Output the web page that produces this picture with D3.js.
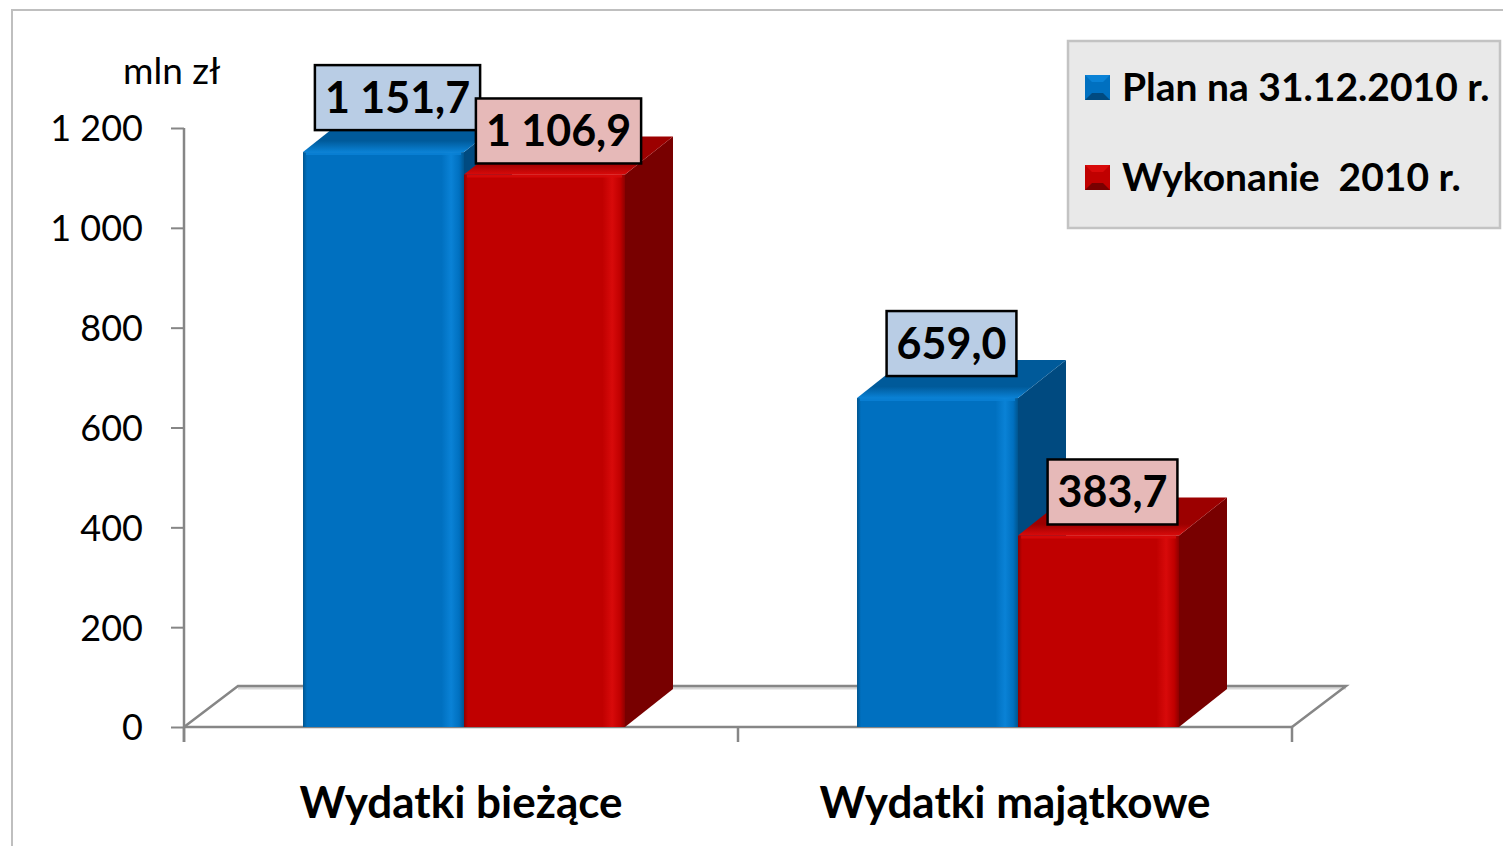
<!DOCTYPE html>
<html>
<head>
<meta charset="utf-8">
<script src="https://cdn.jsdelivr.net/npm/d3@7"></script>
<style>
  body { margin: 0; background: #fff; }
  svg { display: block; font-family: Lato, "Open Sans", sans-serif; }
</style>
</head>
<body>
<div id="chart"></div>
<script>
// Wydatki 2010 - plan vs wykonanie (mln zł)
var categories = ["Wydatki bieżące", "Wydatki majątkowe"];
var seriesNames = ["Plan na 31.12.2010 r.", "Wykonanie  2010 r."];
var planValues = [1151.7, 659.0];
var wykonanieValues = [1106.9, 383.7];
var yTicks = [0, 200, 400, 600, 800, 1000, 1200];

var width = 1503, height = 846;
var dx = 48, dy = -38;          // bar depth (oblique)
var floorDx = 54, floorDy = -41;

var pl = d3.formatLocale({decimal: ",", thousands: "\u00a0", grouping: [3], currency: ["", " zł"]});
var fmtVal = pl.format(",.1f");
var fmtTick = pl.format(",d");

var svg = d3.select("#chart").append("svg")
    .attr("width", width)
    .attr("height", height);

// outer frame
svg.append("rect")
    .attr("x", 12).attr("y", 10)
    .attr("width", 1600).attr("height", 900)
    .attr("fill", "#fff")
    .attr("stroke", "#bfbfbf")
    .attr("stroke-width", 2);

var y = d3.scaleLinear().domain([0, 1200]).range([727, 128]);
var x0 = d3.scaleBand().domain(categories).range([184, 1292]).padding(0);
var groupW = 322;
var x1 = d3.scaleBand().domain(seriesNames).range([0, groupW]).padding(0);

var colors = [
  {front: "#0070c0", dark: "#00558f", light: "#0a82d6", side: "#004a80", top: "#005a9a", box: "#b9cde5"},
  {front: "#c00000", dark: "#8e0000", light: "#d80a0a", side: "#780000", top: "#9c0000", box: "#e6b9b8"}
];
var labelGap = [22, 11];

var defs = svg.append("defs");
colors.forEach(function(c, i) {
  var g = defs.append("linearGradient").attr("id", "front" + i)
      .attr("x1", "0%").attr("x2", "100%").attr("y1", "0%").attr("y2", "0%");
  [[0, c.dark], [0.025, c.front], [0.86, c.front], [0.92, c.light], [0.97, c.front], [1, c.dark]]
    .forEach(function(s) { g.append("stop").attr("offset", s[0]).attr("stop-color", s[1]); });
  var t = defs.append("linearGradient").attr("id", "top" + i)
      .attr("x1", "0%").attr("x2", "0%").attr("y1", "0%").attr("y2", "100%");
  [[0, c.top], [0.7, c.top], [1, c.light]]
    .forEach(function(s) { t.append("stop").attr("offset", s[0]).attr("stop-color", s[1]); });
});

// floor
var y0 = y(0);
var floor = svg.append("g");
floor.append("line")
    .attr("x1", 184 + floorDx).attr("x2", 1292 + floorDx)
    .attr("y1", y0 + floorDy + 2).attr("y2", y0 + floorDy + 2)
    .attr("stroke", "#d9d9d9").attr("stroke-width", 3);
floor.append("path")
    .attr("d", "M184," + y0 + "L" + (184 + floorDx) + "," + (y0 + floorDy) +
               "L" + (1292 + floorDx) + "," + (y0 + floorDy) +
               "L1292," + y0)
    .attr("fill", "none").attr("stroke", "#868686").attr("stroke-width", 2.5);

// y axis
var yAxis = svg.append("g").attr("transform", "translate(184,0)")
    .call(d3.axisLeft(y).tickValues(yTicks).tickSize(13).tickFormat(fmtTick));
yAxis.select(".domain").remove();
yAxis.selectAll(".tick line").attr("stroke", "#868686").attr("stroke-width", 2);
yAxis.selectAll(".tick text")
    .attr("x", -41).attr("dy", "0.36em")
    .attr("font-size", 36).attr("font-family", "Lato, sans-serif").attr("fill", "#000");
svg.append("line")
    .attr("x1", 184).attr("x2", 184).attr("y1", y(1200)).attr("y2", y0 + 15)
    .attr("stroke", "#868686").attr("stroke-width", 2.5);

// x axis (front floor edge)
var xAxis = svg.append("g").attr("transform", "translate(0," + y0 + ")");
xAxis.append("line").attr("x1", 184).attr("x2", 1292)
    .attr("stroke", "#868686").attr("stroke-width", 2.5);
xAxis.selectAll("line.tk").data(categories.concat([null]))
  .enter().append("line").attr("class", "tk")
    .attr("x1", function(d, i) { return 184 + i * x0.bandwidth(); })
    .attr("x2", function(d, i) { return 184 + i * x0.bandwidth(); })
    .attr("y1", 0).attr("y2", 15)
    .attr("stroke", "#868686").attr("stroke-width", 2.5);

svg.selectAll("text.cat").data(categories).enter().append("text")
    .attr("class", "cat")
    .attr("x", function(d) { return x0(d) + x0.bandwidth() / 2; })
    .attr("y", 818)
    .attr("text-anchor", "middle")
    .attr("font-size", 44).attr("font-weight", "bold")
    .text(function(d) { return d; });

svg.append("text")
    .attr("x", 123).attr("y", 84)
    .attr("font-size", 37)
    .text("mln zł");

// bars
var data = categories.map(function(c, ci) {
  return [planValues[ci], wykonanieValues[ci]].map(function(v, si) {
    return {cat: c, series: seriesNames[si], si: si, value: v};
  });
});
var flat = d3.merge(data);
function bx(d) { return x0(d.cat) + (x0.bandwidth() - groupW) / 2 + 3 + x1(d.series); }
var bw = x1.bandwidth();

var bars = svg.selectAll("g.bar").data(flat).enter().append("g").attr("class", "bar");
bars.append("path")
    .attr("d", function(d) {
      var x = bx(d) + bw, yt = y(d.value);
      return "M" + x + "," + yt + "L" + (x + dx) + "," + (yt + dy) +
             "L" + (x + dx) + "," + (y0 + dy) + "L" + x + "," + y0 + "Z";
    })
    .attr("fill", function(d) { return colors[d.si].side; });
bars.append("path")
    .attr("d", function(d) {
      var x = bx(d), yt = y(d.value);
      return "M" + x + "," + yt + "L" + (x + dx) + "," + (yt + dy) +
             "L" + (x + bw + dx) + "," + (yt + dy) + "L" + (x + bw) + "," + yt + "Z";
    })
    .attr("fill", function(d) { return "url(#top" + d.si + ")"; });
bars.append("rect")
    .attr("x", bx)
    .attr("y", function(d) { return y(d.value); })
    .attr("width", bw)
    .attr("height", function(d) { return y0 - y(d.value); })
    .attr("fill", function(d) { return "url(#front" + d.si + ")"; });
bars.append("line")
    .attr("x1", function(d) { return bx(d) + 3; })
    .attr("x2", function(d) { return bx(d) + bw - 3; })
    .attr("y1", function(d) { return y(d.value) + 1.5; })
    .attr("y2", function(d) { return y(d.value) + 1.5; })
    .attr("stroke", function(d) { return colors[d.si].light; })
    .attr("stroke-width", 3).attr("stroke-opacity", 0.8);

// value labels
var labels = svg.selectAll("g.lbl").data(flat).enter().append("g").attr("class", "lbl");
labels.each(function(d) {
  var g = d3.select(this);
  var cx = bx(d) + bw / 2 + 14;
  var bottom = y(d.value) - labelGap[d.si];
  var t = g.append("text")
      .attr("x", cx).attr("y", bottom - 17)
      .attr("text-anchor", "middle")
      .attr("font-size", 43).attr("font-weight", "bold")
      .text(fmtVal(d.value));
  var w = t.node().getComputedTextLength() + 20;
  g.insert("rect", "text")
      .attr("x", cx - w / 2).attr("y", bottom - 65)
      .attr("width", w).attr("height", 65)
      .attr("fill", colors[d.si].box)
      .attr("stroke", "#000").attr("stroke-width", 2.5);
});

// legend
var legend = svg.append("g");
legend.append("rect")
    .attr("x", 1068).attr("y", 41).attr("width", 432).attr("height", 187)
    .attr("fill", "#e9e9e9").attr("stroke", "#c3c3c3").attr("stroke-width", 2.5);
var li = legend.selectAll("g.li").data(seriesNames).enter().append("g")
    .attr("class", "li")
    .attr("transform", function(d, i) { return "translate(1085," + (75 + i * 90) + ")"; });
li.append("rect").attr("width", 25).attr("height", 25)
    .attr("fill", function(d, i) { return colors[i].front; });
li.append("path").attr("d", "M0,0L25,0L18,7L7,7Z")
    .attr("fill", function(d, i) { return colors[i].light; });
li.append("path").attr("d", "M0,25L25,25L18,18L7,18Z")
    .attr("fill", function(d, i) { return colors[i].side; });
li.append("rect").attr("x", 7).attr("y", 7).attr("width", 11).attr("height", 11)
    .attr("fill", function(d, i) { return colors[i].front; });
li.append("text")
    .attr("x", 37).attr("y", 26)
    .attr("font-size", 39).attr("font-weight", "bold")
    .style("white-space", "pre")
    .text(function(d) { return d; });
</script>
</body>
</html>
